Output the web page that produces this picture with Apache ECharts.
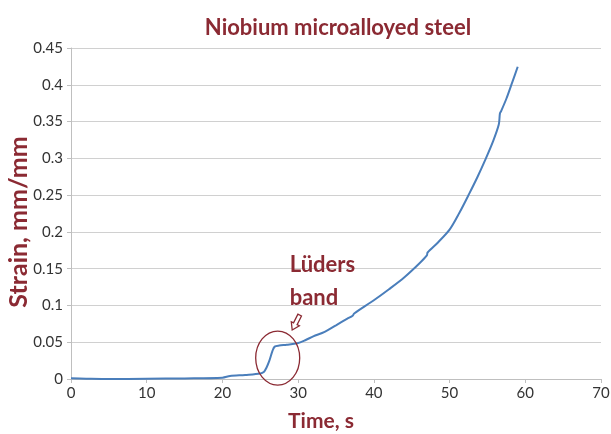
<!DOCTYPE html>
<html><head><meta charset="utf-8">
<script src="https://cdn.jsdelivr.net/npm/echarts@6/dist/echarts.min.js"></script>
<style>html,body{margin:0;padding:0;background:#fff}#c{width:611px;height:434px}</style>
</head><body><div id="c"></div>
<script>
var timeS = [0, 2, 5, 10, 15, 20, 21, 23, 25, 25.5, 25.8, 26.2, 26.6, 26.9, 27.5, 28.5, 29.9, 31, 32, 33.5, 35, 36.5, 37.2, 37.4, 40, 42, 44, 46, 47, 47.1, 48.5, 50, 51.3, 52.6, 53.7, 54.8, 55.7, 56.5, 56.65, 56.8, 57.5, 58.3, 59];
var strain = [0.001, 0.0005, 0, 0.0003, 0.0008, 0.0018, 0.004, 0.0055, 0.0075, 0.010, 0.015, 0.025, 0.038, 0.044, 0.0455, 0.0465, 0.0485, 0.053, 0.058, 0.064, 0.073, 0.082, 0.086, 0.089, 0.107, 0.122, 0.138, 0.157, 0.168, 0.172, 0.186, 0.203, 0.226, 0.252, 0.275, 0.300, 0.322, 0.346, 0.361, 0.364, 0.381, 0.404, 0.4245];
var xTicks = [0, 10, 20, 30, 40, 50, 60, 70];
var yTicks = [0, 0.05, 0.1, 0.15, 0.2, 0.25, 0.3, 0.35, 0.4, 0.45];
var titleText = 'Niobium microalloyed steel';
var xName = 'Time, s';
var yName = 'Strain, mm/mm';
var noteLines = ['Lüders', 'band'];
var circleCenter = [27.3, 0.0285];

var red = '#8B2A33';
var font = 'Lato, "Open Sans", sans-serif';
var chart = echarts.init(document.getElementById('c'));
var data = timeS.map(function (t, i) { return [t, strain[i]]; });
chart.setOption({
  animation: false,
  title: { text: titleText, left: 333, top: 12, textAlign: 'center',
    textStyle: { color: red, fontSize: 22, fontWeight: 'bold', fontFamily: font } },
  grid: { left: 71, right: 10, top: 48, bottom: 55, outerBoundsMode: 'none', containLabel: false },
  xAxis: { type: 'value', min: 0, max: 70, interval: 10,
    axisLine: { show: true, lineStyle: { color: '#bfbfbf' } },
    axisTick: { show: true, length: 4, lineStyle: { color: '#bfbfbf' } },
    axisLabel: { color: '#333', fontSize: 15, fontFamily: font, margin: 7 },
    splitLine: { show: false } },
  yAxis: { type: 'value', min: 0, max: 0.45, interval: 0.05,
    axisLine: { show: true, lineStyle: { color: '#bfbfbf' } },
    axisTick: { show: true, length: 4, lineStyle: { color: '#bfbfbf' } },
    axisLabel: { color: '#333', fontSize: 15, fontFamily: font, margin: 8,
      formatter: function (v) { return String(+v.toFixed(2)); } },
    splitLine: { show: true, lineStyle: { color: '#d0d0d0' } } },
  series: [{ type: 'line', data: data, showSymbol: false, smooth: 0.3,
    lineStyle: { color: '#4a7ebb', width: 2 }, z: 3 }]
});

var c = chart.convertToPixel({ gridIndex: 0 }, circleCenter);
var tip = [c[0] + 14.5, c[1] - 28];
var tail = [tip[0] + 7.5, tip[1] - 15];
function arrowPts(tail, tip) {
  var dx = tip[0] - tail[0], dy = tip[1] - tail[1];
  var L = Math.sqrt(dx * dx + dy * dy); var ux = dx / L, uy = dy / L; var px = -uy, py = ux;
  var hl = 7, hw = 4.5, sw = 2;
  function p(a, b) { return [tail[0] + ux * a + px * b, tail[1] + uy * a + py * b]; }
  return [p(0, -sw), p(L - hl, -sw), p(L - hl, -hw), p(L, 0), p(L - hl, hw), p(L - hl, sw), p(0, sw)];
}
chart.setOption({
  graphic: [
    { type: 'ellipse', shape: { cx: c[0], cy: c[1], rx: 22, ry: 27 },
      style: { fill: 'none', stroke: red, lineWidth: 1.3 }, z: 10 },
    { type: 'polygon', shape: { points: arrowPts(tail, tip) },
      style: { fill: '#fff', stroke: red, lineWidth: 1.3 }, z: 10 },
    { type: 'text', left: c[0] + 12, top: c[1] - 110, z: 10,
      style: { text: noteLines.join('\n'), fill: red, fontSize: 22, fontWeight: 'bold', fontFamily: font, lineHeight: 33 } },
    { type: 'text', x: 19, y: 222, rotation: Math.PI / 2, z: 10,
      style: { text: yName, fill: red, fontSize: 25, fontWeight: 'bold', fontFamily: font, align: 'center', verticalAlign: 'middle' } },
    { type: 'text', x: 321, y: 421, z: 10,
      style: { text: xName, fill: red, fontSize: 21, fontWeight: 'bold', fontFamily: font, align: 'center', verticalAlign: 'middle' } }
  ]
});
</script></body></html>
